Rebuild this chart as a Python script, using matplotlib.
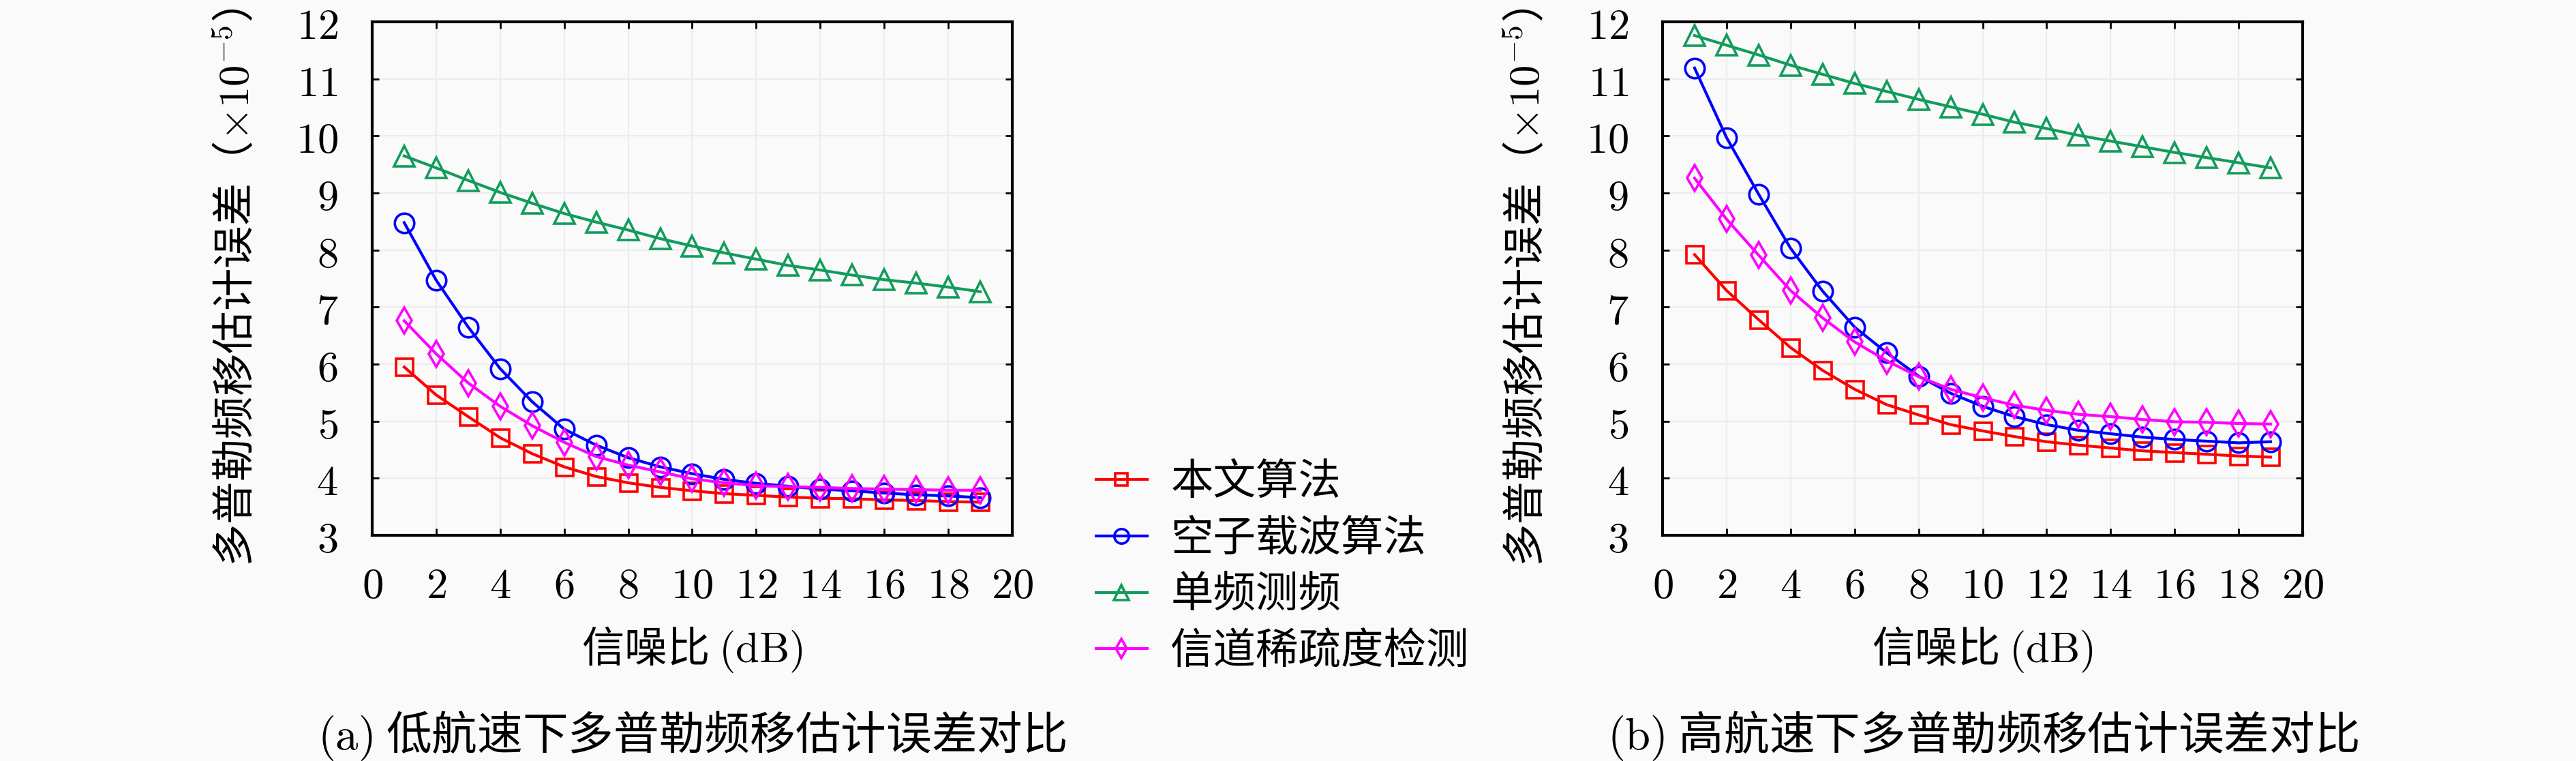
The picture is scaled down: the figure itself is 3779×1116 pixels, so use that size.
import matplotlib
matplotlib.use('Agg')
import matplotlib.pyplot as plt

plt.rcParams['font.family'] = ['Noto Sans CJK SC', 'DejaVu Sans']
plt.rcParams['mathtext.fontset'] = 'cm'
plt.rcParams['axes.unicode_minus'] = False

# SNR (dB)
snr = [1, 2, 3, 4, 5, 6, 7, 8, 9, 10, 11, 12, 13, 14, 15, 16, 17, 18, 19]

# (a) low speed, x1e-5
low_prop = [5.95, 5.46, 5.08, 4.71, 4.43, 4.20, 4.03, 3.92, 3.84, 3.78, 3.73, 3.70, 3.67, 3.65, 3.64, 3.62, 3.61, 3.59, 3.58]
low_null = [8.48, 7.47, 6.65, 5.92, 5.34, 4.86, 4.58, 4.36, 4.20, 4.08, 3.98, 3.91, 3.86, 3.81, 3.78, 3.74, 3.71, 3.69, 3.66]
low_single = [9.65, 9.44, 9.22, 9.01, 8.82, 8.64, 8.49, 8.35, 8.20, 8.07, 7.95, 7.84, 7.73, 7.65, 7.56, 7.48, 7.42, 7.35, 7.27]
low_sparse = [6.76, 6.18, 5.67, 5.26, 4.92, 4.63, 4.38, 4.23, 4.11, 3.99, 3.92, 3.87, 3.85, 3.84, 3.82, 3.81, 3.80, 3.79, 3.79]

# (b) high speed, x1e-5
high_prop = [7.92, 7.29, 6.78, 6.29, 5.89, 5.56, 5.29, 5.11, 4.94, 4.83, 4.73, 4.64, 4.58, 4.53, 4.48, 4.45, 4.42, 4.39, 4.37]
high_null = [11.19, 9.97, 8.98, 8.03, 7.28, 6.65, 6.20, 5.79, 5.49, 5.26, 5.08, 4.94, 4.84, 4.78, 4.72, 4.68, 4.65, 4.62, 4.64]
high_single = [11.76, 11.59, 11.42, 11.24, 11.08, 10.92, 10.78, 10.64, 10.51, 10.38, 10.24, 10.13, 10.01, 9.91, 9.81, 9.71, 9.62, 9.53, 9.44]
high_sparse = [9.26, 8.54, 7.91, 7.29, 6.81, 6.39, 6.06, 5.78, 5.56, 5.41, 5.28, 5.19, 5.12, 5.08, 5.03, 4.99, 4.98, 4.96, 4.95]

names = ['本文算法', '空子载波算法', '单频测频', '信道稀疏度检测']
x_ticks = [0, 2, 4, 6, 8, 10, 12, 14, 16, 18, 20]
y_ticks = [3, 4, 5, 6, 7, 8, 9, 10, 11, 12]
ylabel = '多普勒频移估计误差（$\\times10^{-5}$）'
xlabel = '信噪比 $\\mathrm{(dB)}$'
captions = ['$\\mathrm{(a)}$ 低航速下多普勒频移估计误差对比',
            '$\\mathrm{(b)}$ 高航速下多普勒频移估计误差对比']

styles = [('#ff0000', 's', 18), ('#0000ff', 'o', 20.5), ('#129c5c', '^', 21), ('#ff00ff', 'd', 19)]

bg = '#fafafa'
W, H = 3780, 1116
fig = plt.figure(figsize=(W / 100, H / 100), dpi=100, facecolor=bg)

FS = 45

def draw(rect, series, caption):
    ax = fig.add_axes(rect, facecolor=bg)
    lines = []
    for (c, m, ms), vals, nm in zip(styles, series, names):
        ln, = ax.plot(snr, vals, color=c, lw=3, marker=m, ms=ms, mfc='none',
                      mec=c, mew=2.6, label=nm, zorder=3)
        lines.append(ln)
    ax.set_xlim(0, 20)
    ax.set_ylim(3, 12)
    ax.set_xticks(x_ticks)
    ax.set_yticks(y_ticks)
    ax.set_xticklabels(['$%d$' % v for v in x_ticks], fontsize=FS)
    ax.set_yticklabels(['$%d$' % v for v in y_ticks], fontsize=FS)
    ax.tick_params(direction='in', top=True, right=True, length=7, width=2)
    ax.tick_params(axis='x', pad=30)
    ax.tick_params(axis='y', pad=36)
    ax.grid(True, color='#ececec', lw=1.5, zorder=0)
    for s in ax.spines.values():
        s.set_linewidth(3)
    ax.text(-0.212, 0.483, ylabel, transform=ax.transAxes, rotation=90,
            ha='center', va='center', fontsize=FS)
    ax.text(0.5, -0.223, xlabel, transform=ax.transAxes, ha='center',
            va='center', fontsize=FS)
    ax.text(0.5, -0.39, caption, transform=ax.transAxes, ha='center',
            va='center', fontsize=48)
    return lines

bottom = 1 - 785 / H
height = (785 - 32) / H
lines = draw([546 / W, bottom, 939 / W, height],
             [low_prop, low_null, low_single, low_sparse], captions[0])
draw([2439 / W, bottom, 939 / W, height],
     [high_prop, high_null, high_single, high_sparse], captions[1])

fig.legend(handles=lines, labels=names, loc='center left',
           bbox_to_anchor=(1608 / W, 1 - 831 / H), frameon=False,
           fontsize=FS, handlelength=1.2, handletextpad=0.55,
           labelspacing=0.3, borderpad=0, borderaxespad=0, markerscale=0.75)

fig.savefig('out.png', dpi=100, facecolor=bg)
